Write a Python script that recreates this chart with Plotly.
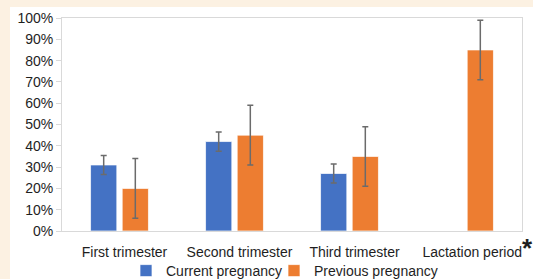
import plotly.graph_objects as go

categories = ["First trimester", "Second trimester", "Third trimester",
              "\u00a0\u00a0\u00a0\u00a0Lactation period<span style='font-size:26px'><b>*</b></span>"]
current_vals = [0.31, 0.42, 0.27, None]
current_err = [0.045, 0.045, 0.045, None]
previous_vals = [0.20, 0.45, 0.35, 0.85]
previous_err = [0.14, 0.14, 0.14, 0.14]
y_ticks = [i / 10 for i in range(11)]
y_tick_labels = [f"{i*10}%" for i in range(11)]

FONT = "Liberation Sans, Arial, sans-serif"
TXT = "#1e1e1e"

fig = go.Figure()
fig.add_trace(go.Bar(
    x=categories, y=current_vals, name="Current pregnancy", legend="legend",
    marker=dict(color="#4472C4", line=dict(color="rgba(255,255,255,0.7)", width=1)),
    error_y=dict(type="data", array=current_err, visible=True,
                 color="#6b6b6b", thickness=1.5, width=3),
))
fig.add_trace(go.Bar(
    x=categories, y=previous_vals, name="Previous pregnancy", legend="legend2",
    marker=dict(color="#ED7D31", line=dict(color="rgba(255,255,255,0.7)", width=1)),
    error_y=dict(type="data", array=previous_err, visible=True,
                 color="#6b6b6b", thickness=1.5, width=3),
))

L, R, T, B = 62, 11, 18, 48
W, H = 533, 279
pw, ph = W - L - R, H - T - B

def px_x(p):
    return (p - L) / pw

def px_y(p):
    return (H - B - p) / ph

legend_common = dict(orientation="h", xanchor="left", y=px_y(271), yanchor="middle",
                     font=dict(size=14, color=TXT), bgcolor="rgba(0,0,0,0)",
                     itemwidth=30, tracegroupgap=0)

fig.update_layout(
    width=W, height=H,
    margin=dict(l=L, r=R, t=T, b=B, pad=0, autoexpand=False),
    paper_bgcolor="white",
    plot_bgcolor="white",
    barmode="group",
    bargap=0.45,
    bargroupgap=0.17,
    font=dict(family=FONT, size=14, color=TXT),
    showlegend=True,
    legend=dict(x=px_x(146 - 20), **legend_common),
    legend2=dict(x=px_x(294 - 20), **legend_common),
    shapes=[
        dict(type="rect", xref="paper", yref="paper", layer="below",
             x0=px_x(-2), x1=px_x(W + 2), y0=px_y(7), y1=px_y(-2),
             fillcolor="#FCF1E2", line=dict(width=0)),
        dict(type="rect", xref="paper", yref="paper", layer="below",
             x0=px_x(-2), x1=px_x(10), y0=px_y(H + 2), y1=px_y(-2),
             fillcolor="#FCF1E2", line=dict(width=0)),
    ],
    xaxis=dict(
        showline=True, linecolor="#d9d9d9", linewidth=1, mirror=True,
        ticks="", showgrid=False, tickfont=dict(size=14, color=TXT),
        ticklabelshift=5, ticklabelstandoff=8, automargin=False,
    ),
    yaxis=dict(
        range=[0, 1], tickvals=y_ticks, ticktext=y_tick_labels,
        showline=True, linecolor="#d9d9d9", linewidth=1, mirror=True,
        ticks="outside", ticklen=5, tickcolor="#d9d9d9", automargin=False,
        showgrid=False, zeroline=False, tickfont=dict(size=14, color=TXT),
    ),
)

fig.write_html("out.html", config={"displayModeBar": False},
               post_script="document.body.style.margin='0';document.body.style.overflow='hidden';")
